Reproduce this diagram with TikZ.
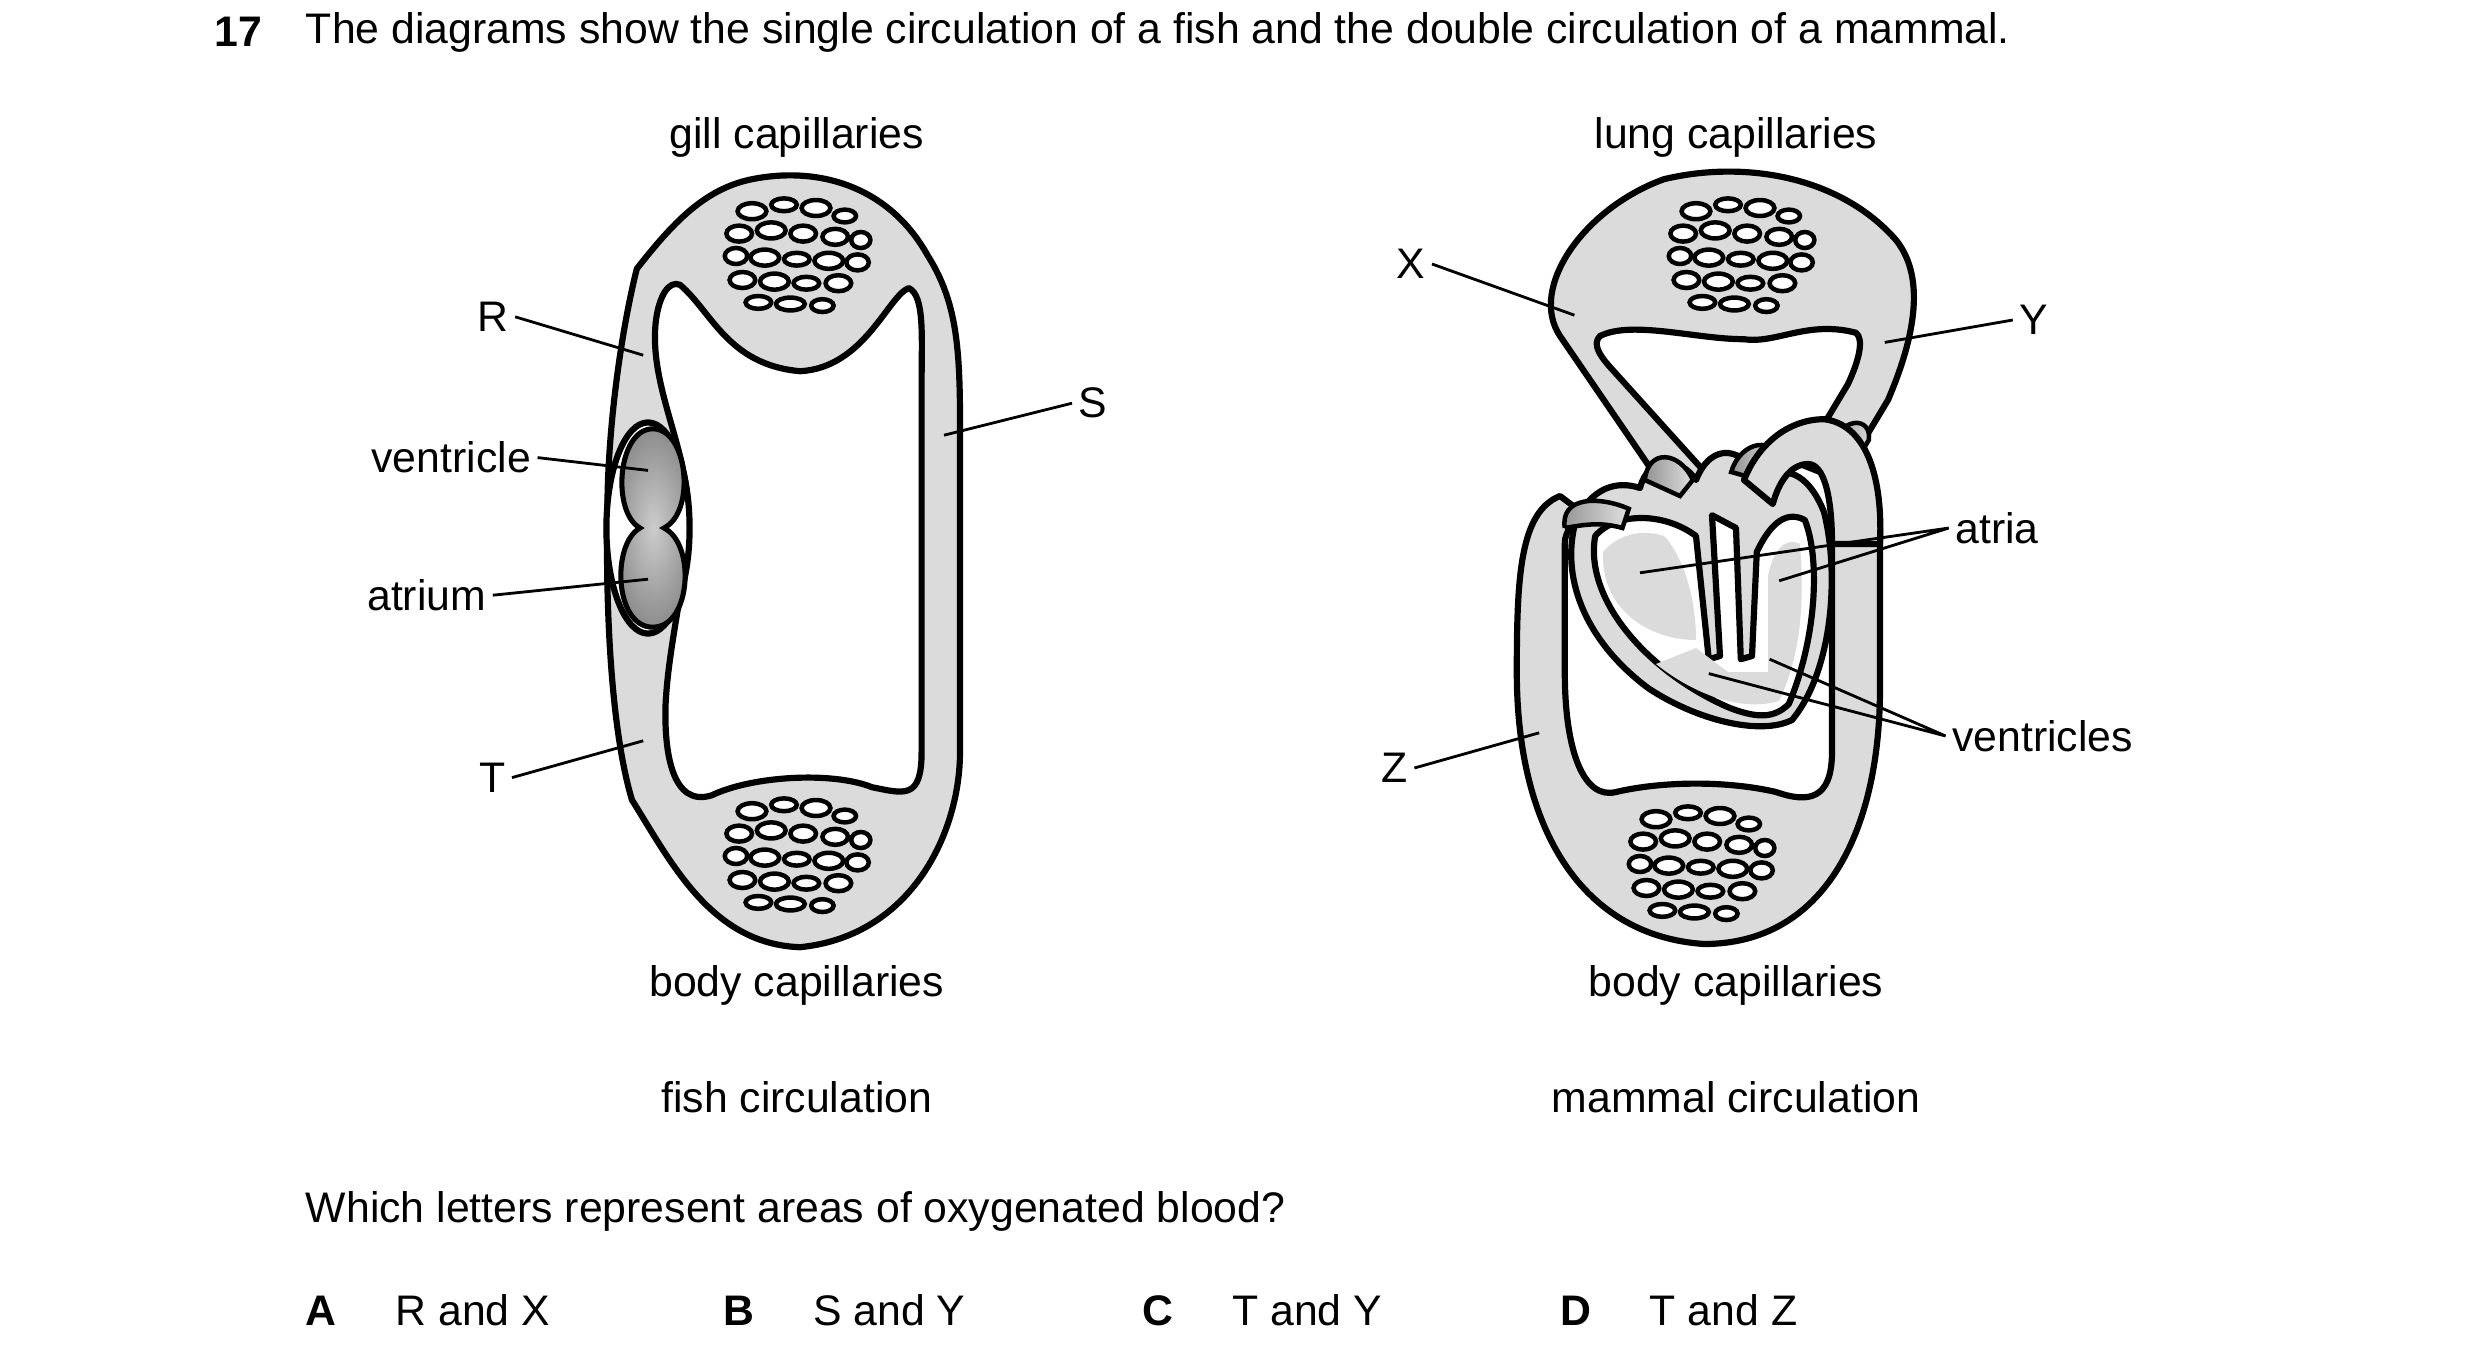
\documentclass[tikz,border=0pt]{standalone}
\usepackage{fontspec}
\setmainfont{Liberation Sans}
\usetikzlibrary{calc}
\definecolor{vessel}{gray}{0.86}
\tikzset{
  vessel/.style={fill=vessel,draw=black,line width=1.1pt,line join=round},
  hole/.style={fill=white,draw=black,line width=1.1pt,line join=round},
  capil/.style={fill=white,draw=black,line width=0.8pt},
  lbl/.style={font=\fontsize{7.6}{9}\selectfont,inner sep=1pt},
  lead/.style={line width=0.5pt}
}
\newcommand{\capbed}[2]{% centre x, centre y
  \foreach \dx/\dy/\w/\h in {-30/-28/9/5,-10/-32/8/4,10/-30/9/5,28/-25/7/4,
    -38/-14/8/5,-18/-16/9/5,2/-14/8/5,22/-12/8/5,38/-10/6/5,
    -40/0/7/5,-22/1/9/5,-2/2/8/4,18/3/9/5,36/4/7/5,
    -36/15/8/5,-16/16/9/5,4/17/8/4,24/17/8/5,
    -26/29/8/4,-6/30/9/4,14/31/7/4}
    \draw[capil] (#1+\dx,#2+\dy) ellipse (\w*0.01cm and \h*0.01cm);}
\begin{document}
\begin{tikzpicture}[x=0.01cm,y=-0.01cm]
\useasboundingbox (0,0) rectangle (1550,845);
% question
\node[lbl,anchor=west,font=\fontsize{7.6}{9}\selectfont\bfseries] (qn) at (130,20) {17};
\node[lbl,anchor=west] (qt) at (187,20) {The diagrams show the single circulation of a fish and the double circulation of a mammal.};
% fish circulation
\draw[vessel] (398,168) .. controls (420,140) and (440,118) .. (470,112)
  .. controls (510,104) and (555,115) .. (580,160)
  .. controls (602,195) and (600,230) .. (600,300)
  -- (600,470) .. controls (600,520) and (570,585) .. (500,592)
  .. controls (445,590) and (420,540) .. (395,500)
  .. controls (380,450) and (378,360) .. (380,300)
  .. controls (382,250) and (390,200) .. (398,168) -- cycle;
\draw[hole] (425,178) .. controls (445,195) and (455,228) .. (500,232)
  .. controls (540,230) and (555,185) .. (568,180)
  .. controls (578,185) and (576,210) .. (576,240)
  -- (576,470) .. controls (576,500) and (565,496) .. (545,492)
  .. controls (520,482) and (470,485) .. (445,497)
  .. controls (420,505) and (415,470) .. (416,440)
  .. controls (418,400) and (430,360) .. (430,320)
  .. controls (430,280) and (405,240) .. (410,200)
  .. controls (412,185) and (418,175) .. (425,178) -- cycle;
\capbed{500}{160}
\capbed{500}{535}
\draw[vessel,fill=white] (405,330) ellipse (26*0.01cm and 66*0.01cm);
\shade[draw=black,line width=0.9pt,inner color=gray!40,outer color=gray!90]
  (408,268) .. controls (430,268) and (435,320) .. (415,330)
  .. controls (435,340) and (432,392) .. (408,392)
  .. controls (384,392) and (382,340) .. (400,330)
  .. controls (382,320) and (386,268) .. (408,268) -- cycle;
% mammal lung loop
\draw[vessel] (1040,305) -- (975,210) .. controls (955,180) and (990,130) .. (1040,112)
  .. controls (1090,100) and (1150,110) .. (1185,150)
  .. controls (1205,175) and (1195,215) .. (1180,250) -- (1150,300) -- (1125,290)
  -- (1155,240) .. controls (1162,225) and (1165,212) .. (1160,208)
  .. controls (1130,200) and (1110,215) .. (1090,212)
  .. controls (1060,212) and (1020,200) .. (1000,210)
  .. controls (995,215) and (1000,222) .. (1005,228) -- (1070,300) -- cycle;
\capbed{1090}{160}
% mammal body loop
\draw[vessel] (975,310) .. controls (950,320) and (948,360) .. (948,420)
  .. controls (948,520) and (990,585) .. (1065,590)
  .. controls (1140,590) and (1175,520) .. (1175,430)
  -- (1175,330) -- (1145,330) -- (1145,470)
  .. controls (1145,500) and (1130,502) .. (1110,495)
  .. controls (1080,488) and (1040,488) .. (1010,495)
  .. controls (990,500) and (978,470) .. (978,420)
  -- (978,340) .. controls (978,330) and (985,325) .. (995,325) -- cycle;
\capbed{1065}{540}
% heart
\draw[vessel] (985,325) .. controls (975,360) and (990,400) .. (1030,430)
  .. controls (1060,450) and (1100,460) .. (1120,450)
  .. controls (1145,420) and (1150,360) .. (1140,320)
  .. controls (1130,295) and (1115,290) .. (1100,300)
  .. controls (1090,280) and (1070,275) .. (1060,300)
  .. controls (1050,285) and (1030,285) .. (1025,305)
  .. controls (1010,300) and (995,305) .. (985,325) -- cycle;
\draw[hole] (997,335) .. controls (990,375) and (1030,420) .. (1080,442)
  .. controls (1100,450) and (1110,448) .. (1118,440)
  .. controls (1135,400) and (1138,350) .. (1128,325)
  .. controls (1115,318) and (1105,330) .. (1098,345)
  -- (1095,410) -- (1088,412) -- (1085,330) -- (1070,322)
  -- (1075,410) -- (1068,412) -- (1060,335)
  .. controls (1040,320) and (1010,320) .. (997,335) -- cycle;
\fill[vessel,draw=none] (1002,345) .. controls (1000,380) and (1030,400) .. (1060,400)
  .. controls (1060,370) and (1050,345) .. (1040,335) .. controls (1025,330) and (1010,335) .. (1002,345);
\fill[vessel,draw=none] (1035,415) .. controls (1060,435) and (1090,445) .. (1112,438)
  .. controls (1125,410) and (1128,380) .. (1125,340) .. controls (1115,335) and (1108,345) .. (1105,360)
  -- (1105,420) -- (1080,420) -- (1060,405) -- cycle;
\shade[draw=black,line width=0.8pt,left color=gray!85,right color=gray!25]
  (978,330) .. controls (975,310) and (1000,310) .. (1018,318) -- (1014,330) .. controls (1000,326) and (990,328) .. (978,330);
\shade[draw=black,line width=0.8pt,left color=gray!85,right color=gray!25]
  (1028,300) .. controls (1030,280) and (1050,282) .. (1058,300) -- (1050,310) -- cycle;
\shade[draw=black,line width=0.8pt,left color=gray!85,right color=gray!25]
  (1082,295) .. controls (1088,275) and (1110,272) .. (1112,290) -- (1100,300) -- cycle;
\shade[draw=black,line width=0.8pt,left color=gray!85,right color=gray!25]
  (1145,280) .. controls (1150,260) and (1170,260) .. (1168,275) -- (1158,292) -- cycle;
% aorta arch
\draw[vessel] (1090,300) .. controls (1100,275) and (1120,262) .. (1140,262)
  .. controls (1165,265) and (1177,295) .. (1175,340) -- (1145,340)
  .. controls (1145,310) and (1140,290) .. (1130,290)
  .. controls (1120,290) and (1112,300) .. (1108,315) -- cycle;
% labels
\node[lbl] (gill) at (498,86) {gill capillaries};
\node[lbl] (bodyf) at (498,616) {body capillaries};
\node[lbl] (fish) at (498,686) {fish circulation};
\node[lbl] (lung) at (1085,86) {lung capillaries};
\node[lbl] (bodym) at (1085,616) {body capillaries};
\node[lbl] (mam) at (1085,686) {mammal circulation};
\node[lbl,anchor=east] (R) at (322,198) {R};
\node[lbl,anchor=east] (vent) at (336,286) {ventricle};
\node[lbl,anchor=east] (atr) at (308,372) {atrium};
\node[lbl,anchor=east] (T) at (320,486) {T};
\node[lbl,anchor=west] (S) at (670,252) {S};
\node[lbl,anchor=east] (X) at (895,165) {X};
\node[lbl,anchor=west] (Y) at (1258,200) {Y};
\node[lbl,anchor=east] (Z) at (884,480) {Z};
\node[lbl,anchor=west] (atria) at (1218,330) {atria};
\node[lbl,anchor=west] (vents) at (1216,460) {ventricles};
\coordinate (pR) at (402,222);
\coordinate (pV) at (405,294);
\coordinate (pA) at (405,362);
\coordinate (pT) at (402,463);
\coordinate (pS) at (590,272);
\coordinate (pX) at (984,197);
\coordinate (pY) at (1178,214);
\coordinate (pZ) at (962,458);
\coordinate (pa1) at (1025,358);
\coordinate (pa2) at (1112,363);
\coordinate (pv1) at (1068,421);
\coordinate (pv2) at (1106,412);
\draw[lead] (R.east) -- (pR);
\draw[lead] (vent.east) -- (pV);
\draw[lead] (atr.east) -- (pA);
\draw[lead] (T.east) -- (pT);
\draw[lead] (S.west) -- (pS);
\draw[lead] (X.east) -- (pX);
\draw[lead] (Y.west) -- (pY);
\draw[lead] (Z.east) -- (pZ);
\draw[lead] (pa1) -- (atria.west) -- (pa2);
\draw[lead] (pv1) -- (vents.west) -- (pv2);
% question text
\node[lbl,anchor=west] (ask) at (187,757) {Which letters represent areas of oxygenated blood?};
\foreach \k/\t/\x in {A/R and X/187,B/S and Y/448,C/T and Y/710,D/T and Z/971}{
  \node[lbl,anchor=west,font=\fontsize{7.6}{9}\selectfont\bfseries] (opt\k) at (\x,819) {\k};
  \node[lbl,anchor=west] (txt\k) at (\x+56,819) {\t};
}
\end{tikzpicture}
\end{document}
